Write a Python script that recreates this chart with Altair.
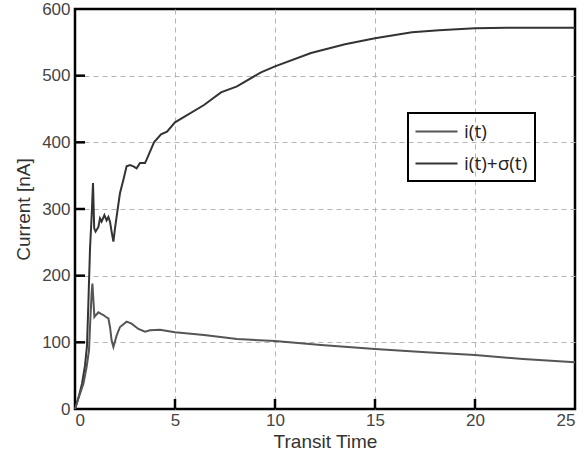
import altair as alt
import pandas as pd

# ---- data ----
series_names = ["i(t)", "i(t)+σ(t)"]

t_upper = [0, 0.2, 0.35, 0.5, 0.6, 0.67, 0.75, 0.83, 0.9, 0.96, 1.03, 1.17, 1.25, 1.33,
           1.47, 1.58, 1.67, 1.75, 1.83, 1.92, 2.0, 2.13, 2.25, 2.42, 2.58, 2.75, 2.92,
           3.08, 3.25, 3.5, 3.58, 3.75, 3.95, 4.3, 4.6, 5.0, 6.45, 7.3, 8.1, 9.3, 10,
           11.8, 13.5, 15, 16.85, 18.2, 20, 21.6, 25]
v_upper = [0, 20, 38, 65, 95, 160, 240, 288, 339, 271, 266, 273, 286, 281,
           291, 283, 288, 281, 266, 251, 271, 299, 324, 344, 364, 366, 364,
           361, 369, 369, 374, 386, 400, 412, 416, 430, 456, 475, 484, 505, 514,
           534, 547, 556, 565, 568, 571, 572, 572]

t_lower = [0, 0.25, 0.42, 0.58, 0.7, 0.75, 0.83, 0.87, 0.92, 0.97, 1.05, 1.17, 1.28,
           1.42, 1.55, 1.67, 1.75, 1.83, 1.92, 2.08, 2.25, 2.58, 2.83, 3.17, 3.5, 3.75,
           4.25, 5.0, 6.45, 8.1, 10, 12.3, 15, 17.55, 20, 22.4, 25]
v_lower = [0, 23, 38, 63, 88, 123, 173, 188, 163, 138, 141, 145, 143,
           141, 138, 136, 123, 103, 93, 110, 123, 131, 128, 120, 116, 118,
           119, 115, 111, 105, 102, 96, 90, 85, 81, 75, 70]

x_ticks = [0, 5, 10, 15, 20, 25]
y_ticks = [0, 100, 200, 300, 400, 500, 600]
x_inner_ticks = [5, 10, 15, 20]
y_inner_ticks = [100, 200, 300, 400, 500]

# ---- tables ----
df = pd.concat([
    pd.DataFrame({"t": t_upper, "v": v_upper, "series": series_names[1], "order": range(len(t_upper))}),
    pd.DataFrame({"t": t_lower, "v": v_lower, "series": series_names[0], "order": range(len(t_lower))}),
])
xt = pd.DataFrame({"tick": x_inner_ticks})
yt = pd.DataFrame({"tick": y_inner_ticks})

FONT = "Liberation Sans"
W, H = 500, 400

xscale = alt.Scale(domain=[0, 25], nice=False, zero=False)
yscale = alt.Scale(domain=[0, 600], nice=False)

hide_edges_x = {"condition": {"test": "datum.value == 0 || datum.value == 25", "value": 0}, "value": 1}
hide_edges_y = {"condition": {"test": "datum.value == 0 || datum.value == 600", "value": 0}, "value": 1}

lines = alt.Chart(df).mark_line(strokeWidth=2).encode(
    x=alt.X("t:Q", scale=xscale, title="Transit Time",
            axis=alt.Axis(values=x_ticks, format="d", gridOpacity=hide_edges_x)),
    y=alt.Y("v:Q", scale=yscale, title="Current [nA]",
            axis=alt.Axis(values=y_ticks, format="d", gridOpacity=hide_edges_y)),
    color=alt.Color("series:N",
                    scale=alt.Scale(domain=series_names, range=["#555555", "#333333"]),
                    legend=alt.Legend(title=None, orient="none", legendX=333, legendY=104,
                                      strokeColor="black", padding=7,
                                      symbolType="M-2,0H2", symbolSize=441,
                                      symbolOffset=10,
                                      symbolStrokeWidth=2, labelFontSize=19,
                                      labelFont="Open Sans", labelColor="#222",
                                      rowPadding=10, labelOffset=16)),
    order="order:Q",
    detail="series:N",
)

xticks_layer = alt.Chart(xt).mark_rule(stroke="#000000", strokeWidth=2.5).encode(
    x=alt.X("tick:Q", scale=xscale),
    y=alt.value(H),
    y2=alt.value(H - 10),
)
yticks_layer = alt.Chart(yt).mark_rule(stroke="#000000", strokeWidth=2.5).encode(
    y=alt.Y("tick:Q", scale=yscale),
    x=alt.value(0),
    x2=alt.value(10),
)

chart = alt.layer(lines, xticks_layer, yticks_layer).properties(
    width=W, height=H,
    autosize=alt.AutoSizeParams(type="none"),
    padding={"left": 75, "top": 9, "right": 9, "bottom": 47},
    background="white",
).configure_view(
    stroke="black", strokeWidth=2.5
).configure_axis(
    grid=True, gridColor="#b5b5b5", gridDash=[5, 4], gridWidth=1,
    domain=False, ticks=False,
    labelFont=FONT, labelFontSize=17, labelColor="#444",
    titleFont=FONT, titleFontSize=19, titleFontWeight="normal", titleColor="#333",
).configure_axisX(
    labelPadding=3, titlePadding=4,
).configure_axisY(
    labelPadding=5, titlePadding=8,
).configure_legend(
    strokeWidth=2
)

chart.save("out.html", embed_options={"renderer": "svg", "actions": False})
